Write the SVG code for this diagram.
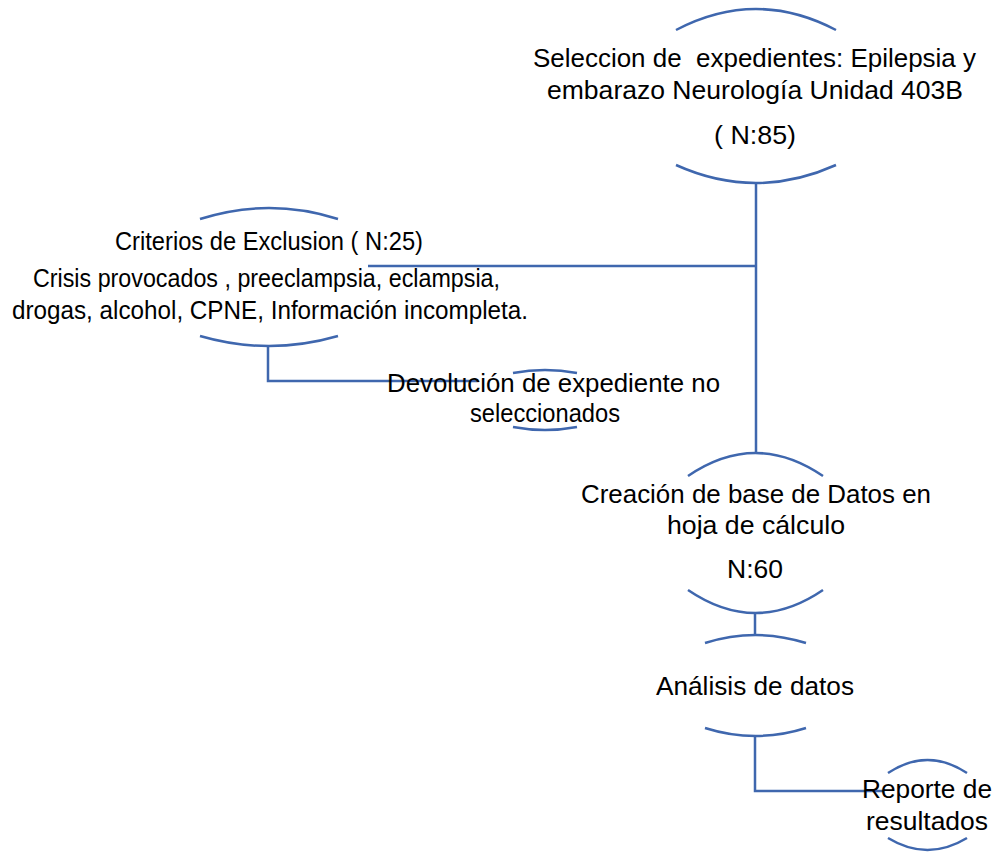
<svg xmlns="http://www.w3.org/2000/svg" width="997" height="852" viewBox="0 0 997 852">
<style>
.arc{fill:none;stroke:#3F67AE;stroke-width:2.5}
.con{fill:none;stroke:#3F67AE;stroke-width:2.5}
text{font-family:"Liberation Sans",Arial,sans-serif;font-size:26.5px;fill:#000;white-space:pre}
</style>
<rect width="997" height="852" fill="#fff"/>
<g id="connectors">
<path class="con" d="M756 183 V453"/>
<path class="con" d="M368 266 H756"/>
<path class="con" d="M268 346 V381 H477"/>
<path class="con" d="M755 613 V635"/>
<path class="con" d="M755 736 V791 H883"/>
</g>
<g id="node-seleccion">
<path class="arc" d="M676 30 Q756 -12 836 30"/>
<path class="arc" d="M676 165 Q756 201 836 165"/>
<text x="533" y="67" textLength="443" lengthAdjust="spacingAndGlyphs" xml:space="preserve">Seleccion de  expedientes: Epilepsia y</text>
<text x="547" y="99" textLength="416" lengthAdjust="spacingAndGlyphs">embarazo Neurología Unidad 403B</text>
<text x="714" y="144" textLength="82" lengthAdjust="spacingAndGlyphs">( N:85)</text>
</g>
<g id="node-exclusion">
<path class="arc" d="M200 219 Q269 197 338 219"/>
<path class="arc" d="M200 336 Q269 356 338 336"/>
<text x="115" y="250" textLength="308" lengthAdjust="spacingAndGlyphs">Criterios de Exclusion ( N:25)</text>
<text x="33" y="287" textLength="467" lengthAdjust="spacingAndGlyphs">Crisis provocados , preeclampsia, eclampsia,</text>
<text x="12" y="319" textLength="516" lengthAdjust="spacingAndGlyphs">drogas, alcohol, CPNE, Información incompleta.</text>
</g>
<g id="node-devolucion">
<path class="arc" d="M513 373 Q545 367 577 373"/>
<path class="arc" d="M513 427 Q545 433 577 427"/>
<text x="387" y="392" textLength="333" lengthAdjust="spacingAndGlyphs">Devolución de expediente no</text>
<text x="470" y="422" textLength="150" lengthAdjust="spacingAndGlyphs">seleccionados</text>
</g>
<g id="node-creacion">
<path class="arc" d="M688 476 Q755.5 430 823 476"/>
<path class="arc" d="M688 590 Q755.5 636 823 590"/>
<text x="581" y="503" textLength="350" lengthAdjust="spacingAndGlyphs">Creación de base de Datos en</text>
<text x="667" y="534" textLength="178" lengthAdjust="spacingAndGlyphs">hoja de cálculo</text>
<text x="727" y="578" textLength="56" lengthAdjust="spacingAndGlyphs">N:60</text>
</g>
<g id="node-analisis">
<path class="arc" d="M705 643 Q755.5 627 806 643"/>
<path class="arc" d="M705 728 Q755.5 744 806 728"/>
<text x="656" y="695" textLength="198" lengthAdjust="spacingAndGlyphs">Análisis de datos</text>
</g>
<g id="node-reporte">
<path class="arc" d="M888 773 Q927.5 747 967 773"/>
<path class="arc" d="M888 838 Q927.5 862 967 838"/>
<text x="862" y="798" textLength="130" lengthAdjust="spacingAndGlyphs">Reporte de</text>
<text x="866" y="830" textLength="122" lengthAdjust="spacingAndGlyphs">resultados</text>
</g>
</svg>
